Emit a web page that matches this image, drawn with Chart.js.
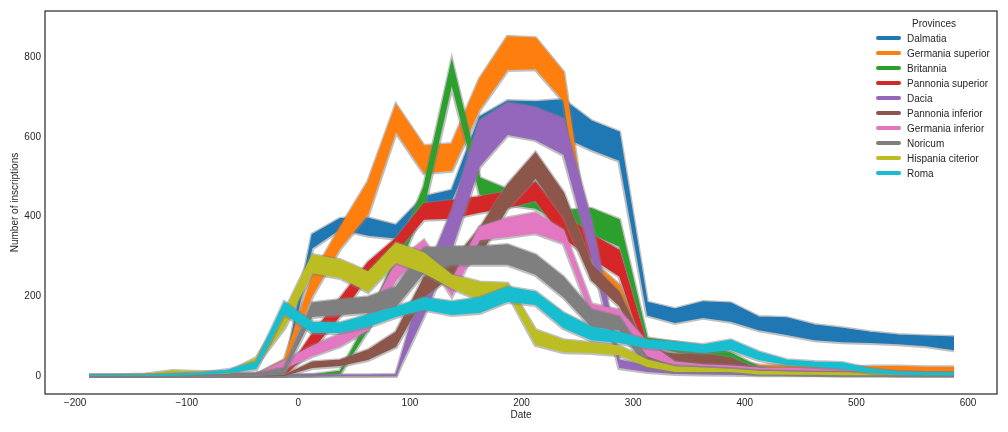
<!DOCTYPE html>
<html lang="en">
<head>
<meta charset="UTF-8">
<title>Inscriptions per province</title>
<script src="https://cdn.jsdelivr.net/npm/chart.js"></script>
<style>
  body { margin: 0; background: #fff; font-family: "Liberation Sans", Arial, sans-serif; }
  #wrap { position: relative; width: 1008px; height: 432px; }
  #legend { position: absolute; left: 0; top: 0; font-size: 10px; color: #262626; }
  #legend .ttl { position: absolute; left: 900px; width: 68px; text-align: center; line-height: 12px; }
  #legend .row { position: absolute; left: 876px; line-height: 12px; white-space: nowrap; }
  #legend .sw { display: inline-block; width: 25px; height: 4px; border-radius: 2px; vertical-align: middle; margin-right: 6px; position: relative; top: -1px; }
</style>
</head>
<body>
<div id="wrap">
  <canvas id="chart" width="1008" height="432"></canvas>
  <div id="legend"></div>
</div>
<script>
// bin centres (25-year bins)
const dates = [-187.5, -162.5, -137.5, -112.5, -87.5, -62.5, -37.5, -12.5, 12.5, 37.5, 62.5, 87.5,
  112.5, 137.5, 162.5, 187.5, 212.5, 237.5, 262.5, 287.5, 312.5, 337.5, 362.5, 387.5,
  412.5, 437.5, 462.5, 487.5, 512.5, 537.5, 562.5, 587.5];

const provinces = ['Dalmatia', 'Germania superior', 'Britannia', 'Pannonia superior', 'Dacia',
  'Pannonia inferior', 'Germania inferior', 'Noricum', 'Hispania citerior', 'Roma'];
const colours = ['#1f77b4', '#ff7f0e', '#2ca02c', '#d62728', '#9467bd',
  '#8c564b', '#e377c2', '#7f7f7f', '#bcbd22', '#17becf'];

const dalmatiaLow  = [0,0,0,0,0,1,2,4, 320,368,352,345,425,440,600,640,640,600,567,540,152,133,146,136,115,103,90,85,83,80,75,65];
const dalmatiaHigh = [1,1,1,2,3,4,7,12, 355,395,396,378,450,466,650,690,688,693,640,612,185,168,186,183,148,146,128,120,110,103,100,98];

const gerSupLow  = [0,0,0,0,0,0,1,20, 200,320,405,612,509,515,668,768,770,690,245,205,50,35,30,25,20,18,16,14,14,13,12,10];
const gerSupHigh = [0,0,0,1,1,2,4,40, 250,372,487,680,577,582,745,851,848,762,290,228,70,50,45,38,27,25,22,20,24,24,22,22];

const britanniaLow  = [0,0,0,0,0,0,0,0, 0,5,115,260,420,727,455,430,420,380,355,325,80,60,50,40,10,5,4,3,3,2,2,2];
const britanniaHigh = [0,0,0,0,0,0,0,1, 3,12,140,300,475,790,497,468,452,415,420,392,95,85,75,58,22,10,8,7,6,5,5,5];

const panSupLow  = [0,0,0,0,0,0,0,0, 65,150,250,310,392,395,410,422,440,345,295,250,45,30,25,20,10,8,6,5,4,3,3,2];
const panSupHigh = [0,0,0,0,0,0,0,3, 105,195,285,345,432,440,450,462,487,405,355,315,75,50,40,35,20,15,12,10,9,8,7,6];

const daciaLow  = [0,0,0,0,0,0,0,0, 0,0,0,0,150,316,525,605,592,555,300,20,10,5,4,3,2,2,2,1,1,1,1,1];
const daciaHigh = [0,0,0,0,0,0,0,1, 2,2,2,3,243,414,640,685,673,645,390,40,25,12,10,8,6,5,4,3,3,3,3,3];

const panInfLow  = [0,0,0,0,0,0,0,0, 20,25,40,73,198,250,300,420,495,400,240,175,35,30,30,25,8,5,4,3,3,2,2,2];
const panInfHigh = [0,0,0,0,0,0,0,2, 35,40,65,110,246,285,370,480,560,460,280,210,60,55,55,45,15,10,8,7,6,5,5,5];

const gerInfLow  = [0,0,0,0,0,0,0,18, 50,75,115,240,310,200,341,349,358,333,150,145,50,25,20,18,15,14,13,12,8,6,5,4];
const gerInfHigh = [0,0,0,0,0,1,4,38, 75,105,150,285,340,240,374,396,409,366,180,165,85,35,28,25,20,19,18,17,12,10,8,7];

const noricumLow  = [0,0,0,0,0,0,2,8, 148,153,158,173,258,279,279,279,254,198,123,115,20,15,12,10,6,5,4,3,3,2,2,2];
const noricumHigh = [0,0,0,0,1,2,6,20, 183,191,198,223,321,324,324,329,304,248,166,148,40,25,20,17,12,10,8,7,6,5,5,4];

const hispLow  = [0,0,1,7,5,5,28,120, 258,246,211,284,258,220,191,208,78,60,58,52,23,10,10,10,4,3,3,2,2,2,2,2];
const hispHigh = [2,2,4,13,10,10,45,160, 304,291,261,334,309,253,235,232,115,90,83,75,40,23,20,17,12,10,9,8,7,7,6,6];

const romaLow  = [0,0,0,1,3,8,18,155, 108,108,123,148,166,153,158,186,178,120,90,83,70,65,58,65,40,28,23,18,8,3,2,2];
const romaHigh = [2,2,2,4,7,15,35,185, 135,133,153,173,196,186,196,223,211,158,123,110,90,85,78,90,60,40,35,33,18,10,8,8];

const bandLow  = [dalmatiaLow, gerSupLow, britanniaLow, panSupLow, daciaLow, panInfLow, gerInfLow, noricumLow, hispLow, romaLow];
const bandHigh = [dalmatiaHigh, gerSupHigh, britanniaHigh, panSupHigh, daciaHigh, panInfHigh, gerInfHigh, noricumHigh, hispHigh, romaHigh];

const xTicks = [-200, -100, 0, 100, 200, 300, 400, 500, 600];
const yTicks = [0, 200, 400, 600, 800];

const edge = 'rgba(128,128,128,0.5)';
const pts = arr => arr.map((v, k) => ({ x: dates[k], y: v }));

const datasets = [];
provinces.forEach((name, i) => {
  const base = (provinces.length - i) * 10;   // later provinces drawn on top
  const loIdx = datasets.length;
  datasets.push({ label: name + ' low', data: pts(bandLow[i]), borderColor: edge, borderWidth: 4, fill: false, order: base + 1 });
  datasets.push({ label: name + ' high', data: pts(bandHigh[i]), borderColor: edge, borderWidth: 4, fill: false, order: base + 1 });
  datasets.push({ label: name, data: pts(bandHigh[i]), borderColor: colours[i], borderWidth: 1.2,
    backgroundColor: colours[i], fill: { target: loIdx }, order: base });
});

// frame around the plot area
const frame = {
  id: 'frame',
  afterDatasetsDraw(chart) {
    const a = chart.chartArea, c = chart.ctx;
    c.save();
    c.strokeStyle = '#262626';
    c.lineWidth = 1.2;
    c.strokeRect(a.left, a.top, a.right - a.left, a.bottom - a.top);
    c.restore();
  }
};

Chart.defaults.font.family = '"Liberation Sans", Arial, sans-serif';
Chart.defaults.font.size = 10;
Chart.defaults.color = '#262626';

const minus = v => (v < 0 ? '\u2212' + Math.abs(v) : String(v));

new Chart(document.getElementById('chart'), {
  type: 'line',
  data: { datasets: datasets },
  options: {
    responsive: false,
    animation: false,
    devicePixelRatio: 1,
    layout: { padding: { top: 11, right: 11, left: 0, bottom: 0 } },
    elements: { point: { radius: 0 }, line: { tension: 0 } },
    plugins: { legend: { display: false }, tooltip: { enabled: false } },
    scales: {
      x: {
        type: 'linear', min: -227, max: 626,
        grid: { display: false, drawTicks: false }, border: { display: false },
        afterBuildTicks: s => { s.ticks = xTicks.map(v => ({ value: v })); },
        afterFit: s => { s.height = 38; },
        ticks: { padding: 3, callback: minus },
        title: { display: true, text: 'Date', padding: { top: 0, bottom: 11 } }
      },
      y: {
        min: -45, max: 916,
        grid: { display: false, drawTicks: false }, border: { display: false },
        afterBuildTicks: s => { s.ticks = yTicks.map(v => ({ value: v })); },
        afterFit: s => { s.width = 45; },
        ticks: { padding: 4, callback: minus },
        title: { display: true, text: 'Number of inscriptions', padding: { top: 9, bottom: 0 } }
      }
    }
  },
  plugins: [frame]
});

// legend inside the plot, top right
const legend = document.getElementById('legend');
const ttl = document.createElement('div');
ttl.className = 'ttl';
ttl.style.top = '18px';
ttl.textContent = 'Provinces';
legend.appendChild(ttl);
provinces.forEach((name, i) => {
  const row = document.createElement('div');
  row.className = 'row';
  row.style.top = (33 + i * 15) + 'px';
  const sw = document.createElement('span');
  sw.className = 'sw';
  sw.style.background = colours[i];
  row.appendChild(sw);
  row.appendChild(document.createTextNode(name));
  legend.appendChild(row);
});
</script>
</body>
</html>
